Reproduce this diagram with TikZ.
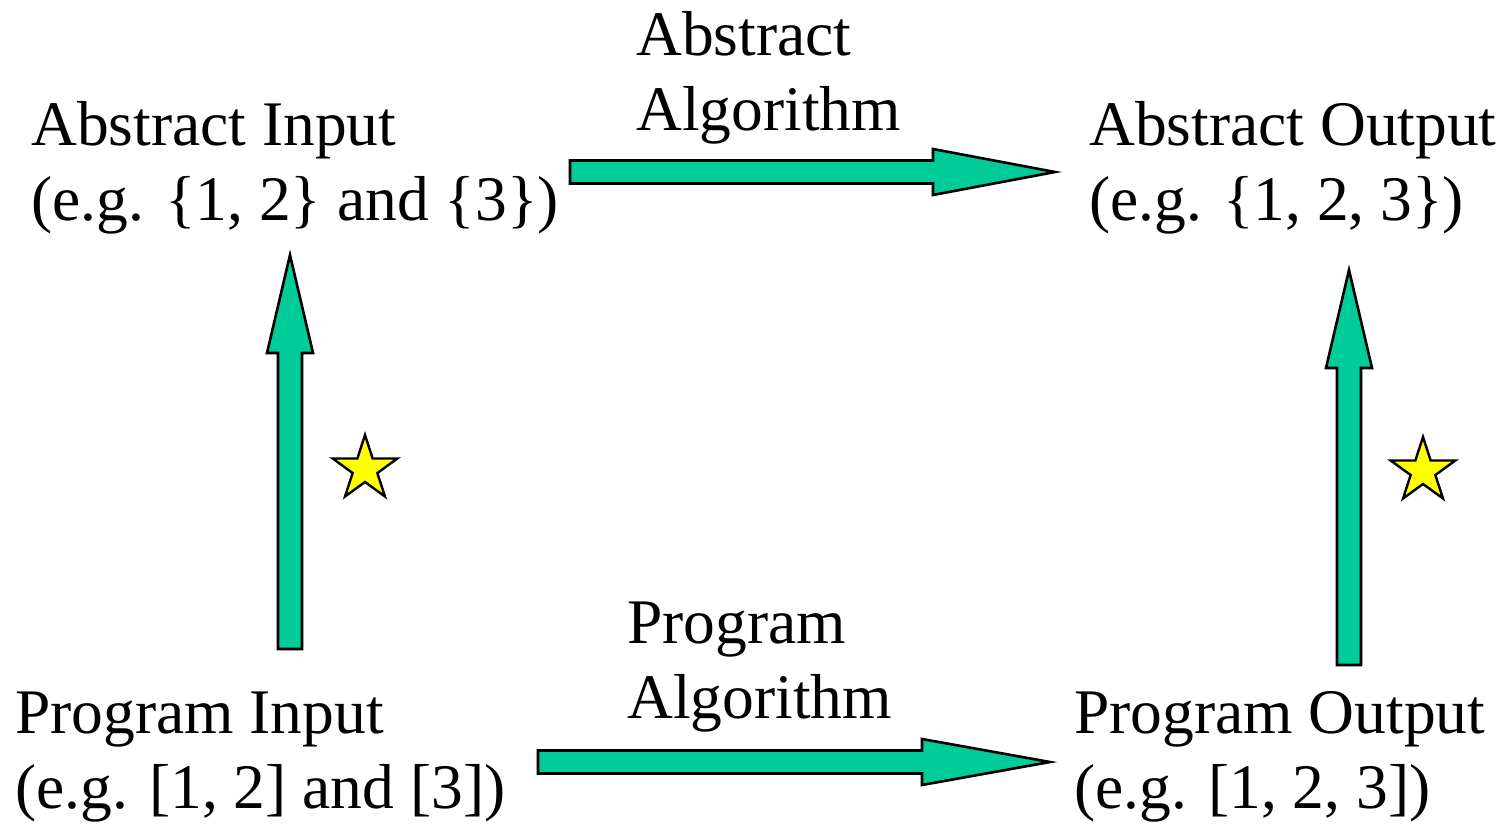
\documentclass[tikz,border=0pt]{standalone}
\usepackage{fontspec}
\setmainfont{Liberation Serif}
\usetikzlibrary{calc,shapes.geometric}
\definecolor{arrowgreen}{RGB}{0,204,153}
\definecolor{staryellow}{RGB}{255,255,0}
\begin{document}
\begin{tikzpicture}[x=1pt,y=-1pt,
  txt/.style={anchor=base west, inner sep=0pt, align=left,
    font=\fontsize{63.5}{75}\selectfont},
  blk/.style={draw=black, line width=2.6pt, fill=arrowgreen, line join=miter},
  starmark/.style={star, star points=5, star point ratio=2.618,
    minimum size=68pt, inner sep=0pt, draw=black, line width=2.4pt,
    fill=staryellow}]
\useasboundingbox (0,0) rectangle (1507,825);

% labels (the base anchor sits on the baseline of the last line)
\node[txt] (ain)  at (31,220)   {Abstract Input\\(e.g. \{1, 2\} and \{3\})};
\node[txt] (aout) at (1089,220) {Abstract Output\\(e.g. \{1, 2, 3\})};
\node[txt] (pin)  at (15,808)   {Program Input\\(e.g. [1, 2] and [3])};
\node[txt] (pout) at (1074,808) {Program Output\\(e.g. [1, 2, 3])};
\node[txt] (aalg) at (636,130)  {Abstract\\Algorithm};
\node[txt] (palg) at (627,718)  {Program\\Algorithm};

% arrow end points
\coordinate (t1) at (570,172);  \coordinate (t2) at (1055,172);
\coordinate (b1) at (538,762);  \coordinate (b2) at (1050,762);
\coordinate (l1) at (290,649);  \coordinate (l2) at (290,255);
\coordinate (r1) at (1349,665); \coordinate (r2) at (1349,270);

% horizontal block arrows
\draw[blk] ($(t1)+(0,-11.5)$) -- ($(t2)+(-122,-11.5)$) -- ($(t2)+(-122,-23)$)
  -- (t2) -- ($(t2)+(-122,23)$) -- ($(t2)+(-122,11.5)$) -- ($(t1)+(0,11.5)$) -- cycle;
\draw[blk] ($(b1)+(0,-11.5)$) -- ($(b2)+(-128,-11.5)$) -- ($(b2)+(-128,-23)$)
  -- (b2) -- ($(b2)+(-128,23)$) -- ($(b2)+(-128,11.5)$) -- ($(b1)+(0,11.5)$) -- cycle;

% vertical block arrows
\draw[blk] ($(l1)+(-12,0)$) -- ($(l2)+(-12,98)$) -- ($(l2)+(-23,98)$)
  -- (l2) -- ($(l2)+(23,98)$) -- ($(l2)+(12,98)$) -- ($(l1)+(12,0)$) -- cycle;
\draw[blk] ($(r1)+(-12,0)$) -- ($(r2)+(-12,98)$) -- ($(r2)+(-23,98)$)
  -- (r2) -- ($(r2)+(23,98)$) -- ($(r2)+(12,98)$) -- ($(r1)+(12,0)$) -- cycle;

% stars
\node[starmark] (s1) at (365,469) {};
\node[starmark] (s2) at (1423,471) {};
\end{tikzpicture}
\end{document}
